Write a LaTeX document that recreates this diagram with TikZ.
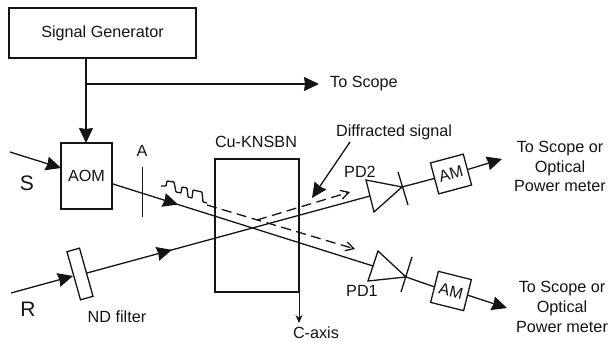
\documentclass[tikz,border=0pt]{standalone}
\usepackage{fontspec}
\setmainfont{Liberation Sans}
\usetikzlibrary{arrows.meta,decorations.markings}
\definecolor{ink}{gray}{0.08}
\tikzset{
  ln/.style={draw=ink,line width=1.3pt},
  thin ln/.style={draw=ink,line width=1pt},
  head/.style={-{Stealth[length=15pt,width=14pt,inset=1pt]}},
  mid/.style={postaction={decorate},decoration={markings,mark=at position #1 with {\arrow{Stealth[length=15pt,width=14pt,inset=1pt]}}}},
  dash ln/.style={ln,dash pattern=on 10pt off 5.5pt},
  box/.style={ln,inner sep=0pt,outer sep=0pt,rectangle,text=ink,font=\fontsize{16.2}{18}\selectfont},
  lab/.style={text=ink,font=\fontsize{16.2}{18}\selectfont,inner sep=0pt,align=center},
  big/.style={text=ink,font=\fontsize{21}{24}\selectfont,inner sep=0pt},
}
\begin{document}
\begin{tikzpicture}[x=1pt,y=-1pt]
\useasboundingbox (0,0) rectangle (611,342);
% boxes
\node[box,minimum width=187pt,minimum height=50pt] (gen) at (102.5,33) {Signal Generator};
\node[box,minimum width=51pt,minimum height=66pt] (aom) at (86.5,176) {AOM};
\node[box,minimum width=84pt,minimum height=133pt] (xtal) at (257,225.5) {};
\node[box,minimum width=13pt,minimum height=50pt,rotate=15.7] (nd) at (80,274) {};
\node[box,minimum width=34pt,minimum height=32pt,rotate=15] (am2) at (451,174) {AM};
\node[box,minimum width=34pt,minimum height=32pt,rotate=-14] (am1) at (451,291) {AM};
% signal generator outputs
\coordinate (branch) at (86,84);
\coordinate (scopeend) at (319,84);
\node[lab,anchor=west] (scope) at (330,84) {To Scope};
\draw[ln] (branch |- gen.south) -- (branch);
\draw[ln,head] (branch) -- (scopeend);
\draw[ln,head] (branch) -- (branch |- aom.north);
% input beams
\coordinate (sstart) at (10,152);
\coordinate (sin) at (61,168);
\draw[ln,head] (sstart) -- (sin);
\coordinate (rstart) at (11,293);
\coordinate (rin) at (73,276);
\draw[ln,head] (rstart) -- (rin);
% detectors
\coordinate (p2a) at (366,180);
\coordinate (p2b) at (374,212);
\coordinate (p2t) at (402,187);
\coordinate (p2c) at (370,196);
\coordinate (b2a) at (398,172);
\coordinate (b2b) at (408,205);
\draw[ln] (p2a) -- (p2b) -- (p2t) -- cycle;
\draw[ln] (b2a) -- (b2b);
\coordinate (p1a) at (378,251);
\coordinate (p1b) at (368,281);
\coordinate (p1t) at (406,277);
\coordinate (p1c) at (373,266);
\coordinate (b1a) at (412,257);
\coordinate (b1b) at (401,292);
\draw[ln] (p1a) -- (p1b) -- (p1t) -- cycle;
\draw[ln] (b1a) -- (b1b);
% main beams
\coordinate (sout) at (113,184);
\coordinate (rout) at (87,273);
\draw[ln,mid=0.25] (sout) -- (p1c);
\draw[ln,mid=0.30] (rout) -- (p2c);
% outputs
\draw[ln] (p2t) -- (am2.west);
\draw[ln] (p1t) -- (am1.west);
\coordinate (o2) at (502,159);
\coordinate (o1) at (507,308);
\draw[ln,head] (am2.east) -- (o2);
\draw[ln,head] (am1.east) -- (o1);
% aperture
\coordinate (apa) at (142,167);
\coordinate (apb) at (142,217);
\draw[thin ln] (apa) -- (apb);
% dashed
\coordinate (da) at (207,205);
\coordinate (db) at (355,249);
\coordinate (dc) at (257,220);
\coordinate (dd) at (350,192);
\draw[dash ln,-{Straight Barb[length=8pt,width=9pt]}] (da) -- (db);
\draw[dash ln,-{Straight Barb[length=8pt,width=9pt]}] (dc) -- (dd);
% pulses
\draw[ln,rounded corners=0.7pt] (161,186) -- (166,186) -- (167,181) -- (174,182)
 -- (176,192) -- (181,193) -- (182,187) -- (187,188)
 -- (188,197) -- (192,198) -- (193,190) -- (202,192)
 -- (203,202) -- (207,203);
% c-axis
\node[lab] (cax) at (316,333) {C-axis};
\coordinate (cend) at (299,323);
\draw[thin ln,-{Stealth[length=8pt,width=7pt]}] (xtal.south east) -- (cend);
% diffracted
\node[lab] (dif) at (394,132) {Diffracted signal};
\coordinate (difs) at (350,142);
\coordinate (dife) at (312,198);
\draw[ln,head] (difs) -- (dife);
% labels
\node[big] (stxt) at (27,183) {S};
\node[big] (rtxt) at (28,309) {R};
\node[lab] (atxt) at (142,151) {A};
\node[lab] (cuk) at (256,142) {Cu-KNSBN};
\node[lab] (ndt) at (117,317) {ND filter};
\node[lab] (pd2) at (360,172) {PD2};
\node[lab] (pd1) at (362,291) {PD1};
\node[lab,font=\fontsize{16.2}{19.6}\selectfont] (t2) at (560,166.5) {To Scope or\\Optical\\Power meter};
\node[lab,font=\fontsize{16.2}{20}\selectfont] (t1) at (562,307) {To Scope or\\Optical\\Power meter};
\end{tikzpicture}
\end{document}
